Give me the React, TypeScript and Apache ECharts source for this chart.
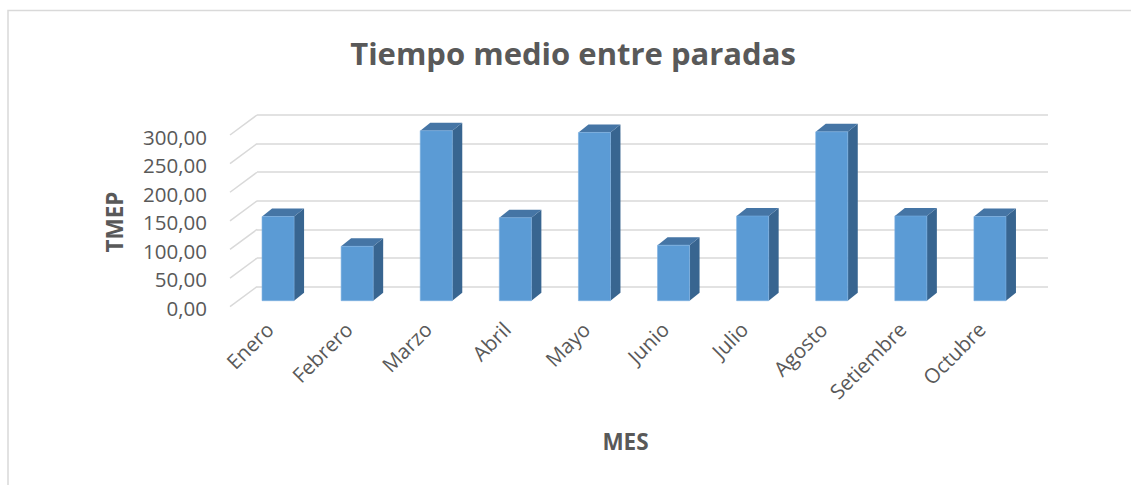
import React, { useEffect, useRef } from "react";
import * as echarts from "echarts";

const categories = ["Enero", "Febrero", "Marzo", "Abril", "Mayo", "Junio", "Julio", "Agosto", "Setiembre", "Octubre"];
const values = [147, 95, 297, 145, 294, 97, 148, 295, 148, 147];
const yTicks = [0, 50, 100, 150, 200, 250, 300];
const titleText = "Tiempo medio entre paradas";
const yName = "TMEP";
const xName = "MES";

const FONT = "'Open Sans', sans-serif";
const TEXT = "#595959";
const GRIDC = "#d9d9d9";

export default function App() {
  const ref = useRef<HTMLDivElement>(null);
  useEffect(() => {
    const chart = echarts.init(ref.current!, null, { renderer: "svg" });
    const option: any = {
      animation: false,
      backgroundColor: "#ffffff",
      title: {
        text: titleText,
        left: 568,
        top: 32,
        textAlign: "center",
        textStyle: { fontFamily: FONT, fontSize: 31, fontWeight: "bold", color: TEXT },
      },
      graphic: [
        {
          type: "rect",
          shape: { x: 8, y: 10.5, width: 1300, height: 700 },
          style: { fill: "none", stroke: GRIDC, lineWidth: 1.5 },
          silent: true,
        },
      ],
      grid: [
        { left: 257, top: 115, width: 791, height: 171.7 },
        { left: 230, top: 136.5, width: 791, height: 171 },
      ],
      xAxis: [
        {
          type: "category",
          gridIndex: 0,
          data: categories,
          axisLine: { show: false },
          axisTick: { show: false },
          axisLabel: { show: false },
        },
        {
          type: "category",
          gridIndex: 1,
          data: categories,
          axisLine: { show: false },
          axisTick: { show: false },
          axisLabel: {
            rotate: 45,
            margin: 18,
            fontFamily: FONT,
            fontSize: 20.5,
            color: TEXT,
          },
          name: xName,
          nameLocation: "middle",
          nameGap: 122,
          nameTextStyle: { fontFamily: FONT, fontSize: 22.5, fontWeight: "bold", color: TEXT },
        },
      ],
      yAxis: [
        {
          type: "value",
          gridIndex: 0,
          min: 0,
          max: 300,
          interval: 50,
          axisLine: { show: false },
          axisTick: { show: false },
          axisLabel: { show: false },
          splitLine: { lineStyle: { color: GRIDC, width: 1.5 } },
        },
        {
          type: "value",
          gridIndex: 1,
          min: 0,
          max: 300,
          interval: 50,
          axisLine: { show: false },
          axisTick: { show: false },
          splitLine: { show: false },
          axisLabel: {
            margin: 23,
            fontFamily: FONT,
            fontSize: 20.5,
            color: TEXT,
            formatter: (v: number) => v.toFixed(2).replace(".", ","),
          },
          name: yName,
          nameLocation: "middle",
          nameGap: 104,
          nameRotate: 90,
          nameTextStyle: { fontFamily: FONT, fontSize: 22.5, fontWeight: "bold", color: TEXT },
        },
      ],
      series: [
        {
          type: "custom",
          xAxisIndex: 0,
          yAxisIndex: 0,
          data: yTicks.map((t) => [0, t]),
          silent: true,
          z: 1,
          renderItem: (params: any, api: any) => {
            const v = api.value(1);
            const c = api.coord([0, v]);
            const bw = api.size([1, 0])[0];
            const x0 = c[0] - bw / 2;
            return {
              type: "line",
              shape: { x1: x0 - 27, y1: c[1] + 20, x2: x0, y2: c[1] },
              style: { stroke: GRIDC, lineWidth: 1.5 },
            };
          },
        },
        {
          type: "custom",
          xAxisIndex: 0,
          yAxisIndex: 0,
          data: values.map((v, i) => [i, v]),
          z: 5,
          renderItem: (params: any, api: any) => {
            const i = api.value(0);
            const v = api.value(1);
            const c = api.coord([i, v]);
            const c0 = api.coord([i, 0]);
            const bw = api.size([1, 0])[0];
            const w = bw * 0.405;
            const cx = c[0] - 18.5;
            const xl = cx - w / 2;
            const xr = cx + w / 2;
            const top = c[1] + 14;
            const bot = c0[1] + 14;
            const dx = 10;
            const dy = -8;
            return {
              type: "group",
              children: [
                {
                  type: "polygon",
                  shape: { points: [[xr, top], [xr + dx, top + dy], [xr + dx, bot + dy], [xr, bot]] },
                  style: { fill: "#386590" },
                },
                {
                  type: "polygon",
                  shape: { points: [[xl, top], [xl + dx, top + dy], [xr + dx, top + dy], [xr, top]] },
                  style: { fill: "#4575a5" },
                },
                {
                  type: "rect",
                  shape: { x: xl, y: top, width: w, height: bot - top },
                  style: { fill: "#5b9bd5", stroke: "#7aaee0", lineWidth: 0.6 },
                },
              ],
            };
          },
        },
      ],
    };
    chart.setOption(option);
    return () => chart.dispose();
  }, []);
  return <div ref={ref} style={{ position: "absolute", left: 0, top: 0, width: 1131, height: 485 }} />;
}
